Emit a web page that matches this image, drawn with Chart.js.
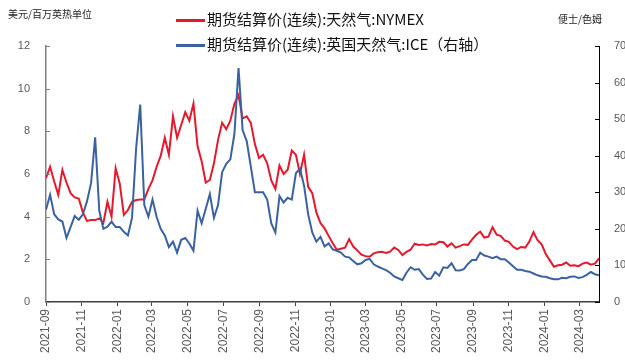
<!DOCTYPE html>
<html>
<head>
<meta charset="utf-8">
<script src="https://cdn.jsdelivr.net/npm/chart.js@4.4.1/dist/chart.umd.min.js"></script>
<style>
  body { margin: 0; background: #fff; }
  #wrap { position: relative; width: 625px; height: 360px; }
  .unit { position: absolute; font-family: "Noto Sans CJK SC", sans-serif; font-size: 10px; color: #222; }
  .legend { position: absolute; left: 176px; font-family: "Noto Sans CJK SC", sans-serif; font-size: 15px; color: #111; white-space: nowrap; }
  .legend span.line { display: inline-block; width: 29px; height: 3px; vertical-align: middle; margin-right: 2px; }
</style>
</head>
<body>
<div id="wrap">
  <canvas id="chart"></canvas>
  <div class="unit" style="left:8px; top:6px;">美元/百万英热单位</div>
  <div class="unit" style="left:558px; top:11px;">便士/色姆</div>
  <div class="legend" style="top:8px;"><span class="line" style="background:#e5192c"></span>期货结算价(连续):天然气:NYMEX</div>
  <div class="legend" style="top:33px;"><span class="line" style="background:#3b62a0"></span>期货结算价(连续):英国天然气:ICE（右轴）</div>
</div>
<script>
// weekly series, first point 2021-09-01
const startDate = '2021-09-01';

const nymex = [
  5.8, 6.34, 5.65, 5.02, 6.19, 5.6, 5.1, 4.9, 4.85, 4.2,
  3.8, 3.84, 3.84, 3.92, 3.7, 4.7, 4.0, 6.27, 5.56, 4.08,
  4.31, 4.7, 4.78, 4.8, 4.8, 5.3, 5.7, 6.34, 6.85, 7.7,
  6.9, 8.7, 7.7, 8.3, 8.9, 8.5, 9.3, 7.3, 6.6, 5.6,
  5.72, 6.5, 7.6, 8.4, 8.1, 8.5, 9.3, 9.7, 8.6, 8.7,
  8.4, 7.4, 6.75, 6.9, 6.5, 5.7, 5.3, 6.4, 6.0, 6.2,
  7.1, 6.9, 6.0, 6.9, 5.4, 5.1, 4.2, 3.7, 3.45, 3.1,
  2.75, 2.45, 2.5, 2.55, 2.95, 2.6, 2.42, 2.22, 2.15, 2.12,
  2.28, 2.33, 2.35, 2.3, 2.36, 2.55, 2.44, 2.2, 2.35, 2.45,
  2.73, 2.67, 2.7, 2.65, 2.72, 2.7, 2.82, 2.8, 2.6, 2.75,
  2.55, 2.62, 2.7, 2.68, 2.92, 3.15, 3.3, 3.02, 3.06, 3.5,
  3.16, 3.1, 2.88, 2.82, 2.6, 2.48, 2.58, 2.55, 2.83, 3.28,
  2.9, 2.7, 2.25, 1.95, 1.65, 1.72, 1.75, 1.85, 1.7, 1.72,
  1.68, 1.8, 1.85, 1.75, 1.8, 2.05
];

const iceUk = [
  252, 293, 240, 226, 220, 175, 205, 235, 225, 240,
  275, 325, 450, 250, 200, 206, 220, 205, 205, 192,
  182, 230, 420, 540, 265, 233, 280, 233, 200, 182,
  150, 165, 135, 170, 175, 160, 140, 250, 215, 255,
  295, 230, 265, 355, 378, 390, 460, 640, 470, 440,
  370, 300, 300, 300, 280, 215, 190, 290, 272, 285,
  280, 352, 365, 318, 240, 190, 165, 178, 152, 160,
  144, 140, 135, 124, 122, 112, 103, 106, 115, 118,
  103, 97, 92, 87, 80, 70, 65, 60, 80, 95,
  88, 90, 75, 63, 64, 82, 72, 95, 93, 106,
  87, 86, 90, 104, 115, 115, 135, 127, 124, 120,
  124, 117, 117, 108, 98, 88, 88, 85, 83, 78,
  73, 70, 69, 65, 62, 62, 66, 65, 69, 70,
  66, 68, 74, 82, 76, 73
];

const tickLabels = ['2021-09', '2021-11', '2022-01', '2022-03', '2022-05', '2022-07', '2022-09', '2022-11',
  '2023-01', '2023-03', '2023-05', '2023-07', '2023-09', '2023-11', '2024-01', '2024-03'];

const t0 = Date.parse(startDate + 'T00:00:00Z');
const dayOf = s => Math.round((Date.parse(s + 'T00:00:00Z') - t0) / 86400000);
const tickDays = tickLabels.map(m => dayOf(m + '-01'));
const weekDays = nymex.map((v, i) => i * 7);

// small inward ticks on both value axes
const innerTicks = {
  id: 'innerTicks',
  afterDraw(chart) {
    const ctx = chart.ctx;
    ctx.save();
    ctx.lineWidth = 1;
    const l = chart.scales.y, r = chart.scales.y1;
    ctx.strokeStyle = '#808080';
    l.ticks.forEach(t => {
      const y = Math.round(l.getPixelForValue(t.value)) + 0.5;
      ctx.beginPath(); ctx.moveTo(l.right, y); ctx.lineTo(l.right + 4, y); ctx.stroke();
    });
    ctx.strokeStyle = '#000';
    r.ticks.forEach(t => {
      const y = Math.round(r.getPixelForValue(t.value)) + 0.5;
      ctx.beginPath(); ctx.moveTo(r.left, y); ctx.lineTo(r.left - 4, y); ctx.stroke();
    });
    ctx.restore();
  }
};

new Chart(document.getElementById('chart'), {
  type: 'line',
  data: {
    datasets: [
      {
        label: '期货结算价(连续):天然气:NYMEX',
        data: nymex.map((v, i) => ({ x: weekDays[i], y: v })),
        borderColor: '#e5192c',
        borderWidth: 2,
        pointRadius: 0,
        tension: 0,
        yAxisID: 'y',
        order: 1
      },
      {
        label: '期货结算价(连续):英国天然气:ICE（右轴）',
        data: iceUk.map((v, i) => ({ x: weekDays[i], y: v })),
        borderColor: '#3b62a0',
        borderWidth: 2,
        pointRadius: 0,
        tension: 0,
        yAxisID: 'y1',
        order: 0
      }
    ]
  },
  options: {
    responsive: true,
    maintainAspectRatio: false,
    animation: false,
    layout: { padding: { top: 46, left: 0, right: 0, bottom: 0 } },
    plugins: { legend: { display: false }, tooltip: { enabled: false } },
    scales: {
      x: {
        type: 'linear',
        min: 0,
        max: weekDays[weekDays.length - 1],
        afterBuildTicks: axis => { axis.ticks = tickDays.map(v => ({ value: v })); },
        afterFit: axis => { axis.height = 58; },
        ticks: {
          autoSkip: false,
          minRotation: 90,
          maxRotation: 90,
          padding: 3,
          color: '#595959',
          font: { family: 'Liberation Sans, Arial', size: 12 },
          callback: v => tickLabels[tickDays.indexOf(v)]
        },
        grid: { display: true, drawOnChartArea: false, drawTicks: true, tickLength: 4, color: '#404040' },
        border: { display: true, color: '#404040', width: 1.5 }
      },
      y: {
        position: 'left',
        min: 0,
        max: 12,
        afterFit: axis => { axis.width = 46; },
        ticks: { stepSize: 2, padding: 8, color: '#595959', font: { family: 'Liberation Sans, Arial', size: 11 } },
        grid: { display: false },
        border: { display: true, color: '#808080', width: 1.5 }
      },
      y1: {
        position: 'right',
        min: 0,
        max: 700,
        afterFit: axis => { axis.width = 26; },
        ticks: { stepSize: 100, padding: 7, color: '#595959', font: { family: 'Liberation Sans, Arial', size: 11 } },
        grid: { display: false },
        border: { display: true, color: '#000', width: 1 }
      }
    }
  },
  plugins: [innerTicks]
});
</script>
</body>
</html>
